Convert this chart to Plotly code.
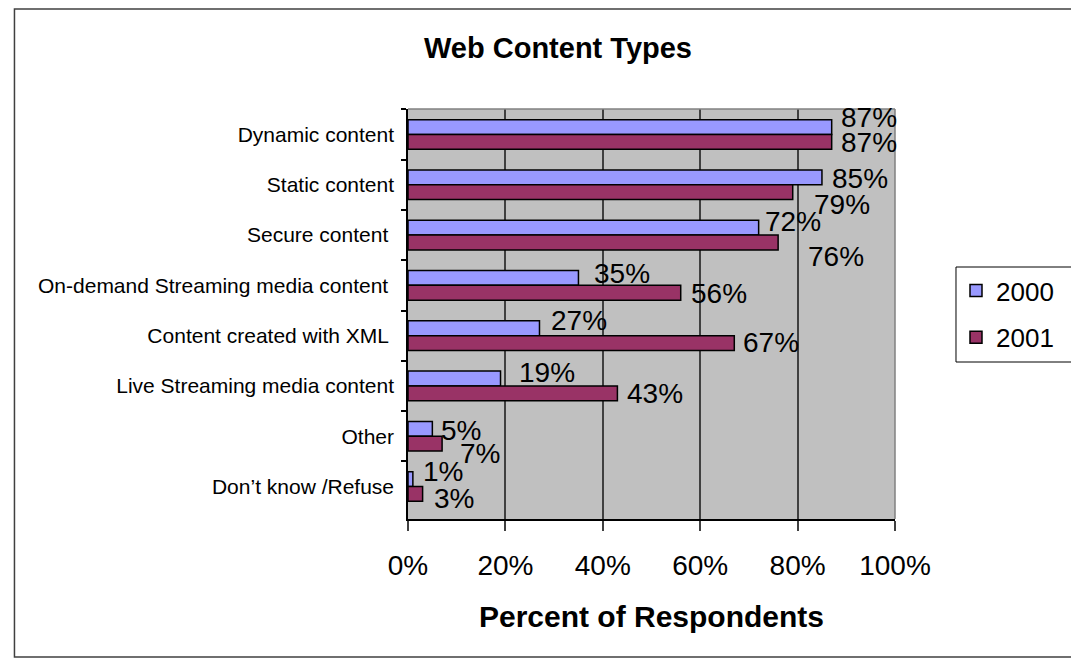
import plotly.graph_objects as go

categories = [
    "Dynamic content",
    "Static content",
    "Secure content ",
    "On-demand Streaming media content ",
    "Content created with XML ",
    "Live Streaming media content",
    "Other",
    "Don’t know /Refuse",
]
series_names = ["2000", "2001"]
values_2000 = [87, 85, 72, 35, 27, 19, 5, 1]
values_2001 = [87, 79, 76, 56, 67, 43, 7, 3]

# style: label offsets (px) relative to bar end / category centre, Excel-like placement
label_offsets_2000 = [(7, -17), (8, -6), (4, -14), (14, -12), (10, -15), (16, -13), (7, -6), (8, -15)]
label_offsets_2001 = [(7, 8), (19, 20), (28, 21), (8, 8), (7, 7), (8, 8), (16, 17), (9, 12)]

colors = ["#9999FF", "#993366"]
FONT = "Arial, Liberation Sans, sans-serif"

W, H = 1071, 666
L, R, T, B = 408, 903, 109, 519

fig = go.Figure()
for name, vals, col, grp in [
    (series_names[0], values_2000, colors[0], "g0"),
    (series_names[1], values_2001, colors[1], "g1"),
]:
    fig.add_trace(go.Bar(
        y=categories, x=vals, orientation="h", name=name,
        marker=dict(color=col, line=dict(color="black", width=1.5)),
        legendgroup=grp, hoverinfo="x+y",
    ))

annotations = []
for vals, offs in [(values_2000, label_offsets_2000), (values_2001, label_offsets_2001)]:
    for cat, v, (dx, dy) in zip(categories, vals, offs):
        annotations.append(dict(
            x=v, y=cat, xref="x", yref="y", text=f"{v}%", showarrow=False,
            xanchor="left", yanchor="middle", xshift=dx, yshift=-dy,
            font=dict(family=FONT, size=28, color="black"),
        ))

LEG_X = (965 - L) / (R - L)
LEG_TOP = (B - 267) / (B - T)
LEG_BOT = (B - 362) / (B - T)

fig.update_layout(
    width=W, height=H,
    margin=dict(l=L, r=W - R, t=T, b=H - B, pad=0),
    paper_bgcolor="white", plot_bgcolor="#C0C0C0",
    font=dict(family=FONT, color="black"),
    barmode="group", bargap=0.41, bargroupgap=0,
    title=dict(text="<b>Web Content Types</b>", font=dict(size=29, family=FONT),
               x=558 / W, xref="container", xanchor="center",
               y=1 - 48 / H, yref="container", yanchor="middle"),
    xaxis=dict(range=[0, 100], dtick=20, ticksuffix="%", showgrid=True,
               gridcolor="#404040", gridwidth=1.5, zeroline=False,
               ticks="outside", ticklen=10, tickcolor="#404040", tickwidth=1.5,
               showline=True, linecolor="black", linewidth=1.5,
               tickfont=dict(size=28), ticklabelstandoff=11,
               title=dict(text="<b>Percent of Respondents</b>", font=dict(size=30), standoff=26)),
    yaxis=dict(type="category", autorange="reversed", ticks="outside", ticklen=5,
               tickson="boundaries", tickcolor="black", tickwidth=1.5,
               showline=True, linecolor="black", linewidth=1.5, showgrid=False,
               tickfont=dict(size=21), ticklabelstandoff=8),
    legend=dict(x=LEG_X, y=LEG_TOP, xanchor="left", yanchor="top",
                borderwidth=0, bgcolor="rgba(0,0,0,0)",
                font=dict(size=26), tracegroupgap=10, traceorder="grouped"),
    annotations=annotations,
    showlegend=True,
)

# plot-area top/right border, legend frame (runs off the right edge) and outer chart border
fig.add_shape(type="line", xref="paper", yref="paper", x0=0, x1=1, y0=1, y1=1,
              line=dict(color="#808080", width=1.5))
fig.add_shape(type="line", xref="paper", yref="paper", x0=1, x1=1, y0=0, y1=1,
              line=dict(color="#808080", width=1.5))
fig.add_shape(type="rect", xref="paper", yref="paper",
              x0=LEG_X, x1=(1090 - L) / (R - L), y0=LEG_BOT, y1=LEG_TOP,
              line=dict(color="black", width=1), fillcolor="white", layer="below")
fig.add_shape(type="rect", xref="paper", yref="paper",
              x0=(8 - L) / (R - L), x1=(1085 - L) / (R - L),
              y0=(B - 657) / (B - T), y1=(B - 9) / (B - T),
              line=dict(color="#404040", width=1.5), layer="below")

fig.write_html("out.html")
